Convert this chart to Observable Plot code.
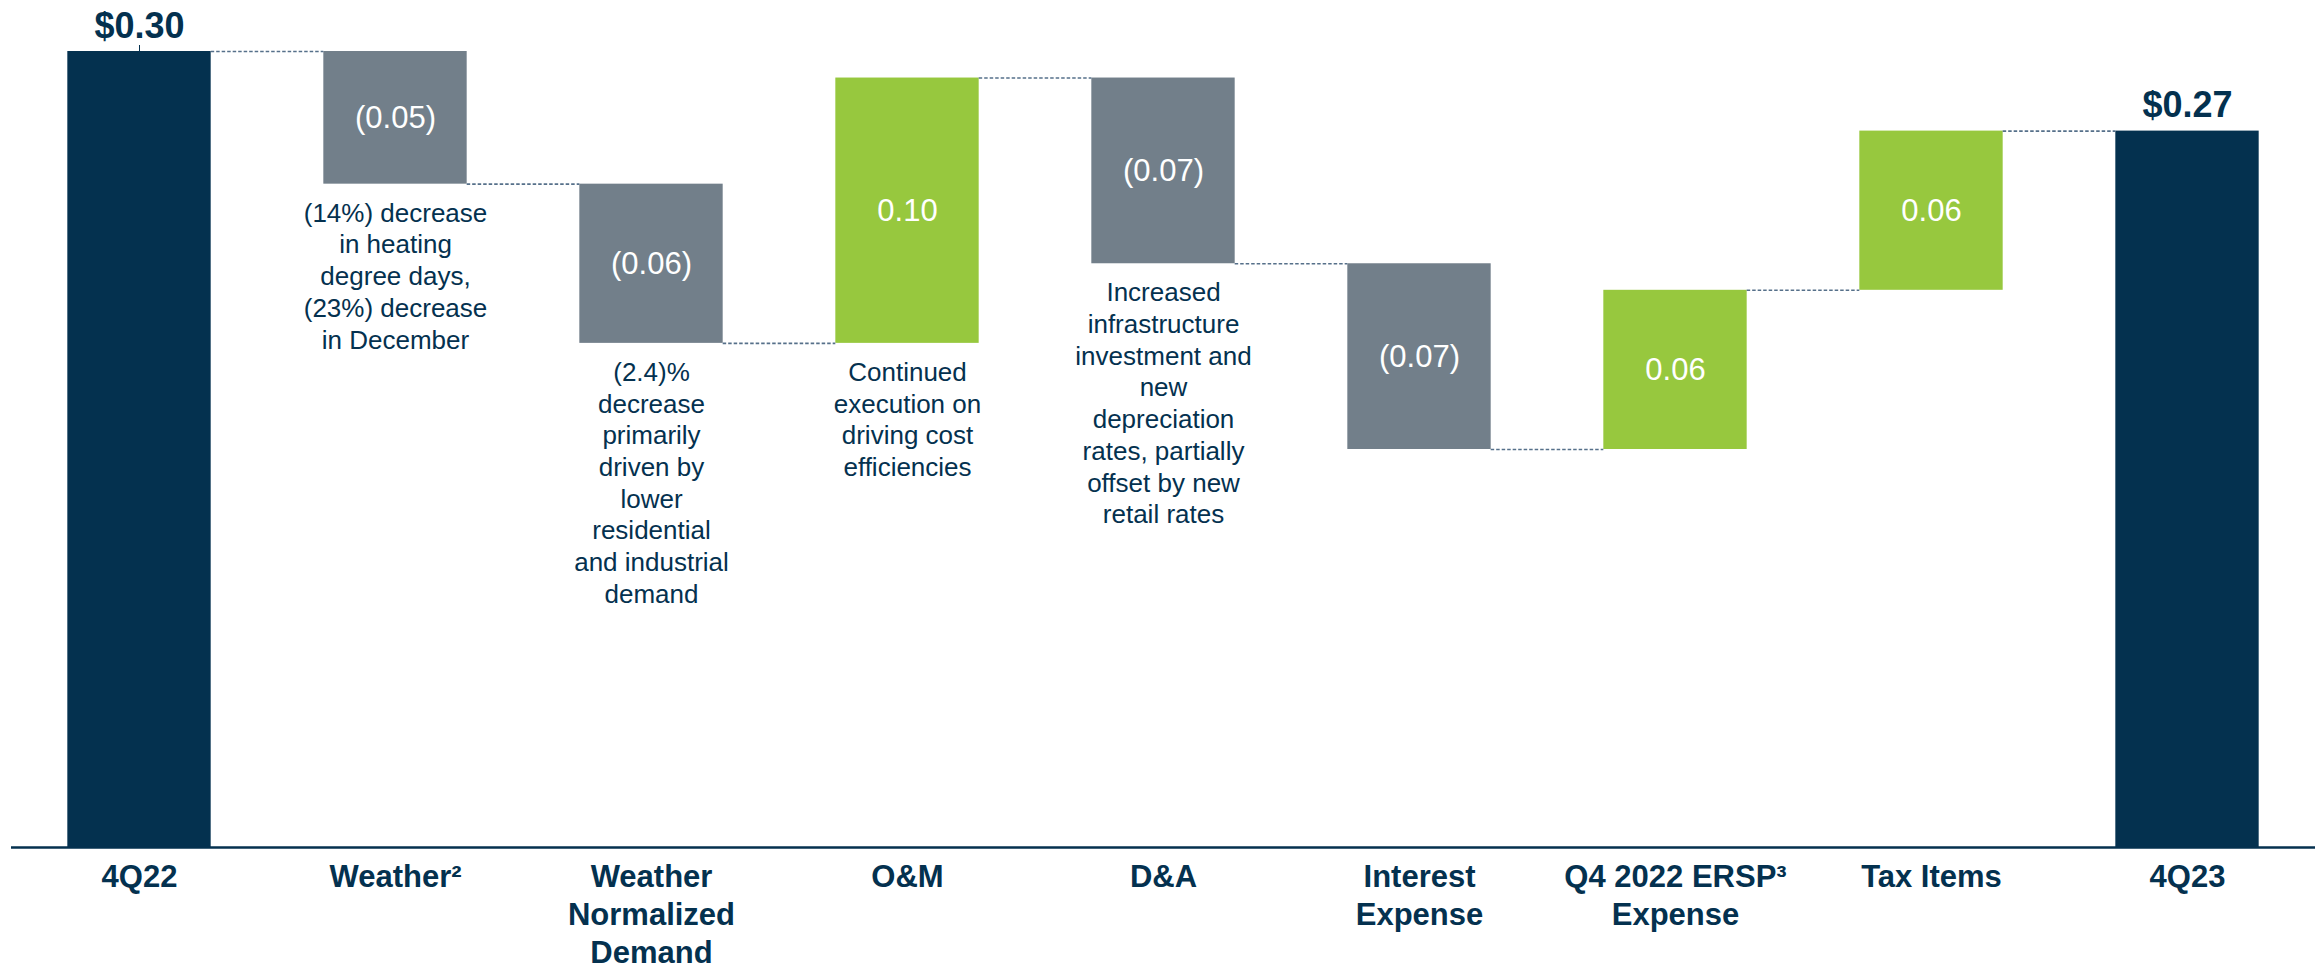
<!DOCTYPE html>
<html>
<head>
<meta charset="utf-8">
<script src="https://cdn.jsdelivr.net/npm/d3@7"></script>
<script src="https://cdn.jsdelivr.net/npm/@observablehq/plot@0.6"></script>
<style>
  html, body { margin: 0; padding: 0; background: #fff; overflow: hidden; }
  svg { display: block; }
</style>
</head>
<body>
<div id="chart"></div>
<script>
// ---- data ----
const categories = ["4Q22", "Weather²", "Weather Normalized Demand", "O&M", "D&A", "Interest Expense", "Q4 2022 ERSP³ Expense", "Tax Items", "4Q23"];
const axisLabels = ["4Q22", "Weather²", "Weather\nNormalized\nDemand", "O&M", "D&A", "Interest\nExpense", "Q4 2022 ERSP³\nExpense", "Tax Items", "4Q23"];
const values = [0.30, -0.05, -0.06, 0.10, -0.07, -0.07, 0.06, 0.06, 0.27];
const kinds = ["total", "delta", "delta", "delta", "delta", "delta", "delta", "delta", "total"];
const valueLabels = ["$0.30", "(0.05)", "(0.06)", "0.10", "(0.07)", "(0.07)", "0.06", "0.06", "$0.27"];
const notes = [
  "",
  "(14%) decrease\nin heating\ndegree days,\n(23%) decrease\nin December",
  "(2.4)%\ndecrease\nprimarily\ndriven by\nlower\nresidential\nand industrial\ndemand",
  "Continued\nexecution on\ndriving cost\nefficiencies",
  "Increased\ninfrastructure\ninvestment and\nnew\ndepreciation\nrates, partially\noffset by new\nretail rates",
  "", "", "", ""
];

// ---- build rows ----
const NAVY = "#04314f", GRAY = "#727f8a", GREEN = "#97c83e";
let running = 0;
const rows = categories.map((c, i) => {
  let y1, y2;
  if (kinds[i] === "total") { y1 = 0; y2 = values[i]; running = values[i]; }
  else { y1 = running; y2 = running + values[i]; running = y2; }
  const fill = kinds[i] === "total" ? NAVY : (values[i] < 0 ? GRAY : GREEN);
  return {i, cat: c, y1, y2, lo: Math.min(y1, y2), hi: Math.max(y1, y2), end: y2, fill,
          label: valueLabels[i], note: notes[i], kind: kinds[i]};
});
const half = 0.28;
const connectors = rows.slice(0, -1).map((r) => ({x1: r.i + half, x2: r.i + 1 - half, y: r.end}));
const totals = rows.filter(r => r.kind === "total");
const deltas = rows.filter(r => r.kind !== "total");
const noted = rows.filter(r => r.note);

const FONT = "'Liberation Sans', Arial, Helvetica, sans-serif";

const chart = Plot.plot({
  width: 2320,
  height: 969,
  marginTop: 51,
  marginBottom: 122,
  marginLeft: 11,
  marginRight: 5,
  style: {fontFamily: FONT, background: "#fff"},
  x: {type: "linear", domain: [-0.5, 8.5]},
  y: {domain: [0, 0.30], axis: null},
  marks: [
    Plot.rectY(rows, {x1: d => d.i - half, x2: d => d.i + half, y1: "lo", y2: "hi", fill: "fill"}),
    Plot.ruleY(connectors, {x1: "x1", x2: "x2", y: "y", stroke: "#56708a", strokeWidth: 1.6, strokeDasharray: "3.5,2"}),
    Plot.ruleX(totals.slice(0, 1), {x: "i", y1: "y2", y2: "y2", insetTop: -6, stroke: NAVY, strokeWidth: 1}),
    Plot.ruleY([0], {stroke: NAVY, strokeWidth: 2.5}),
    // values inside delta bars
    Plot.text(deltas, {x: "i", y: d => (d.y1 + d.y2) / 2, text: "label", fill: "#fff", fontSize: 31}),
    // totals above
    Plot.text(totals, {x: "i", y: "y2", text: "label", fill: NAVY, fontSize: 36, fontWeight: "bold", lineAnchor: "bottom", dy: -14}),
    // notes
    Plot.text(noted, {x: "i", y: "lo", text: "note", fill: NAVY, fontSize: 26, lineAnchor: "top", lineHeight: 1.22, dy: 15}),
    // axis labels
    Plot.axisX({ticks: d3.range(categories.length), tickFormat: i => axisLabels[i], tickSize: 0, tickPadding: 13,
                fontSize: 31, fontWeight: "bold", fill: NAVY, lineHeight: 1.22, label: null})
  ]
});
document.getElementById("chart").appendChild(chart);
</script>
</body>
</html>
